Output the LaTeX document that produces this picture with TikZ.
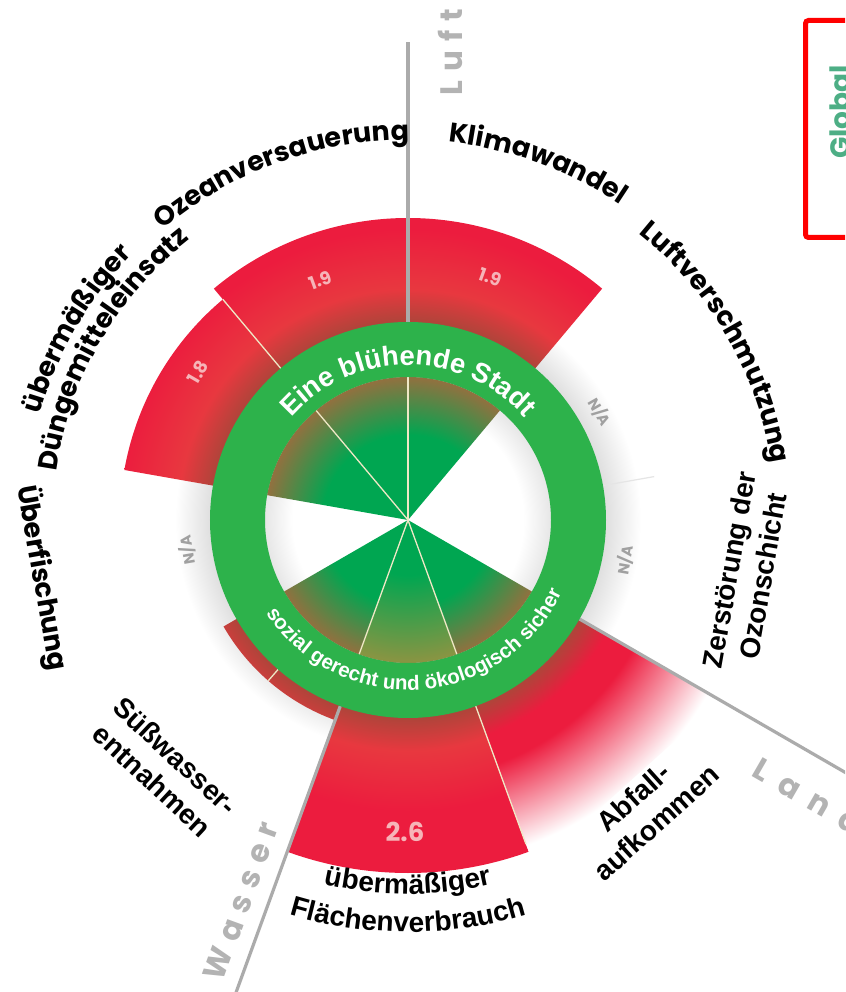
\documentclass[tikz,border=0pt]{standalone}
\usepackage{fontspec}
\setmainfont{Liberation Sans}
\newfontfamily\pop{Poppins}
\usetikzlibrary{decorations.text}

\definecolor{ringGreen}{HTML}{2DB24B}
\definecolor{coreGreen}{HTML}{00A651}
\definecolor{edgeBrown}{HTML}{93703F}
\definecolor{edgeOlive}{HTML}{8C9442}
\definecolor{redA}{HTML}{EC1C3E}
\definecolor{redB}{HTML}{E8383F}
\definecolor{redDark}{HTML}{B0443A}
\definecolor{axisGrey}{HTML}{ABABAB}
\definecolor{labelGrey}{HTML}{B3B3B3}
\definecolor{naGrey}{HTML}{A0A0A0}
\definecolor{numPink}{HTML}{F6B4B8}
\definecolor{sepCream}{HTML}{EFE8C6}
\definecolor{globalGreen}{HTML}{4DAE85}
\definecolor{boxRed}{HTML}{FF0000}
\definecolor{haloGrey}{HTML}{E0E0E0}
\definecolor{innerGrey}{HTML}{E6E6E6}

\pgfdeclareradialshading{haloshade}{\pgfpoint{0bp}{0bp}}{color(0bp)=(haloGrey); color(198bp)=(haloGrey); color(232bp)=(white); color(240bp)=(white)}
\pgfdeclareradialshading{redwedge}{\pgfpoint{0bp}{0bp}}{color(0bp)=(redDark); color(198bp)=(redDark); color(230bp)=(redB); color(290bp)=(redA); color(400bp)=(redA)}
\pgfdeclareradialshading{abfallshade}{\pgfpoint{0bp}{0bp}}{color(0bp)=(redDark); color(198bp)=(redDark); color(228bp)=(redA); color(258bp)=(redA); color(345bp)=(white); color(430bp)=(white)}
\pgfdeclareradialshading{corea}{\pgfpoint{0bp}{0bp}}{color(0bp)=(coreGreen); color(85bp)=(coreGreen); color(143bp)=(edgeBrown); color(150bp)=(edgeBrown)}
\pgfdeclareradialshading{coreb}{\pgfpoint{0bp}{0bp}}{color(0bp)=(coreGreen); color(55bp)=(coreGreen); color(143bp)=(edgeOlive); color(150bp)=(edgeOlive)}
\pgfdeclareradialshading{innerwhite}{\pgfpoint{0bp}{0bp}}{color(0bp)=(white); color(115bp)=(white); color(143bp)=(innerGrey); color(150bp)=(innerGrey)}

\newcommand\popL{\pop\bfseries\fontsize{27}{30}\selectfont}
\newcommand\arL{\bfseries\fontsize{28}{34}\selectfont}
\newcommand\ringTopFont{\bfseries\fontsize{27.5}{30}\selectfont}
\newcommand\ringBotFont{\bfseries\fontsize{20.5}{24}\selectfont}

\tikzset{
  lbl/.style={font=\arL, align=center, text=black, inner sep=0pt},
  poplbl/.style={font=\popL, align=center, text=black, inner sep=0pt},
  axisline/.style={draw=axisGrey, line width=3.2pt},
  sepline/.style={draw=sepCream, line width=1.3pt},
  numlbl/.style={text=numPink, font=\pop\bfseries\fontsize{18}{18}\selectfont},
  nalbl/.style={text=naGrey, font=\pop\bfseries\fontsize{15}{15}\selectfont},
  grouplbl/.style={text=labelGrey, font=\pop\bfseries\fontsize{31}{31}\selectfont, inner sep=0pt},
  shadenode/.style={inner sep=0pt, outer sep=0pt},
  curvedtext/.style={decorate, decoration={text along path, text align=center, text color=black, text={#1}}},
  ringtext/.style={decorate, decoration={text along path, text align=center, text color=white, text={#1}}}
}

\begin{document}
\begin{tikzpicture}[x=1pt,y=1pt]
\useasboundingbox (-408,-472) rectangle (437,520);
\clip (-408,-472) rectangle (437,520);
\fill[white] (-408,-472) rectangle (437,520);

% soft shadow around the ring
\node[shadenode] (halo) at (0,0) {\pgfuseshading{haloshade}};

% red wedges (ecological ceiling overshoot)
\begin{scope}
\clip (0,0) -- (90:302) arc[start angle=90, end angle=130, radius=302] -- cycle
      (0,0) -- (50:302) arc[start angle=50, end angle=90, radius=302] -- cycle
      (0,0) -- (130:288) arc[start angle=130, end angle=170, radius=288] -- cycle
      (0,0) -- (-150:213) arc[start angle=-150, end angle=-110, radius=213] -- cycle
      (0,0) -- (-110:353) arc[start angle=-110, end angle=-70, radius=353] -- cycle;
\node[shadenode] (redfill) at (0,0) {\pgfuseshading{redwedge}};
\end{scope}
\begin{scope}
\clip (0,0) -- (-70:440) arc[start angle=-70, end angle=-30, radius=440] -- cycle;
\node[shadenode] (abfallfill) at (0,0) {\pgfuseshading{abfallshade}};
\end{scope}

% faint divider in the N/A zone
\draw[black!10, line width=1.2pt] (10:198) -- (10:250);

% light separators outside the ring
\draw[sepline] (130:150) -- (130:288);
\draw[sepline] (-70:150) -- (-70:345);
\draw[sepline] (-131:198) -- (-131:213);

% inner social foundation
\begin{scope}
\clip (0,0) circle (143);
\node[shadenode] (innerbg) at (0,0) {\pgfuseshading{innerwhite}};
\end{scope}
\begin{scope}
\clip (0,0) -- (90:143) arc[start angle=90, end angle=170, radius=143] -- cycle
      (0,0) -- (-150:143) arc[start angle=-150, end angle=-110, radius=143] -- cycle
      (0,0) -- (-70:143) arc[start angle=-70, end angle=-30, radius=143] -- cycle
      (0,0) -- (50:143) arc[start angle=50, end angle=90, radius=143] -- cycle;
\node[shadenode] (coreafill) at (0,0) {\pgfuseshading{corea}};
\end{scope}
\begin{scope}
\clip (0,0) -- (-110:143) arc[start angle=-110, end angle=-70, radius=143] -- cycle;
\node[shadenode] (corebfill) at (0,0) {\pgfuseshading{coreb}};
\end{scope}
\coordinate (c) at (0,0);
\foreach \a in {90,130,-110,-70} \draw[sepline] (c) -- (\a:143);

% axis lines
\coordinate (luftA) at (90:198);  \coordinate (luftB) at (90:478);
\coordinate (landA) at (-30:198); \coordinate (landB) at (-30:600);
\coordinate (wasA) at (-110:198); \coordinate (wasB) at (-110:600);
\draw[axisline] (luftA) -- (luftB);
\draw[axisline] (landA) -- (landB);
\draw[axisline] (wasA) -- (wasB);

% ring
\fill[ringGreen, even odd rule] (0,0) circle (198) (0,0) circle (143);
\path[ringtext={|\ringTopFont|Eine blühende Stadt}] (180:155) arc[start angle=180, end angle=0, radius=155];
\path[ringtext={|\ringBotFont|sozial gerecht und ökologisch sicher}] (-176:170) arc[start angle=-176, end angle=4, radius=170];

% values
\node[numlbl, rotate=-20] (v1) at (82,243) {1.9};
\node[numlbl, rotate=20] (v2) at (-88,240) {1.9};
\node[numlbl, rotate=60] (v3) at (-210,148) {1.8};
\node[text=numPink, font=\pop\bfseries\fontsize{26}{26}\selectfont] (v4) at (-3,-312) {2.6};

% N/A
\node[nalbl, rotate=-60] (na1) at (192,108) {N/A};
\node[nalbl, rotate=80] (na2) at (217,-40) {N/A};
\node[nalbl, rotate=100] (na3) at (-221,-30) {N/A};

% boundary labels
\path[curvedtext={|\popL|Klimawandel}] (110:380) arc[start angle=110, end angle=30, radius=380];
\path[curvedtext={|\popL|Ozeanversauerung}] (150:380) arc[start angle=150, end angle=70, radius=380];
\path[curvedtext={|\popL|Luftverschmutzung}] (72:368) arc[start angle=72, end angle=-12, radius=368];
\path[curvedtext={|\popL|übermäßiger}] (200:383) arc[start angle=200, end angle=100, radius=383];
\path[curvedtext={|\popL|Düngemitteleinsatz}] (205:355) arc[start angle=205, end angle=95, radius=355];
\path[curvedtext={|\arL|übermäßiger}] (-140:374) arc[start angle=-140, end angle=-40, radius=374];
\path[curvedtext={|\arL|Flächenverbrauch}] (-140:412) arc[start angle=-140, end angle=-40, radius=412];

\node[lbl, rotate=80] (ozon) at (338,-53) {Zerstörung der\\Ozonschicht};
\node[lbl, rotate=42, fill=white, inner sep=4pt] (abfall) at (237,-290) {Abfall-\\aufkommen};
\node[lbl, rotate=-43] (suess) at (-244,-248) {Süßwasser-\\entnahmen};
\node[poplbl, rotate=-80] (fisch) at (-366,-58) {Überfischung};

% group labels
\node[grouplbl, rotate=90] (luft) at (42,468) {L\hspace{9pt}u\hspace{9pt}f\hspace{9pt}t};
\node[grouplbl, rotate=-30] (land) at (400,-276) {L\hspace{14pt}a\hspace{14pt}n\hspace{14pt}d};
\node[grouplbl, rotate=70] (wasser) at (-167,-381) {W\hspace{9pt}a\hspace{9pt}s\hspace{9pt}s\hspace{9pt}e\hspace{9pt}r};

% global box
\draw[boxRed, line width=5pt, rounded corners=3pt] (397.5,282.5) rectangle (480,499.5);
\node[rotate=90, text=globalGreen, font=\pop\bfseries\fontsize{28}{28}\selectfont, inner sep=0pt] (global) at (432,408) {Global};
\end{tikzpicture}
\end{document}
